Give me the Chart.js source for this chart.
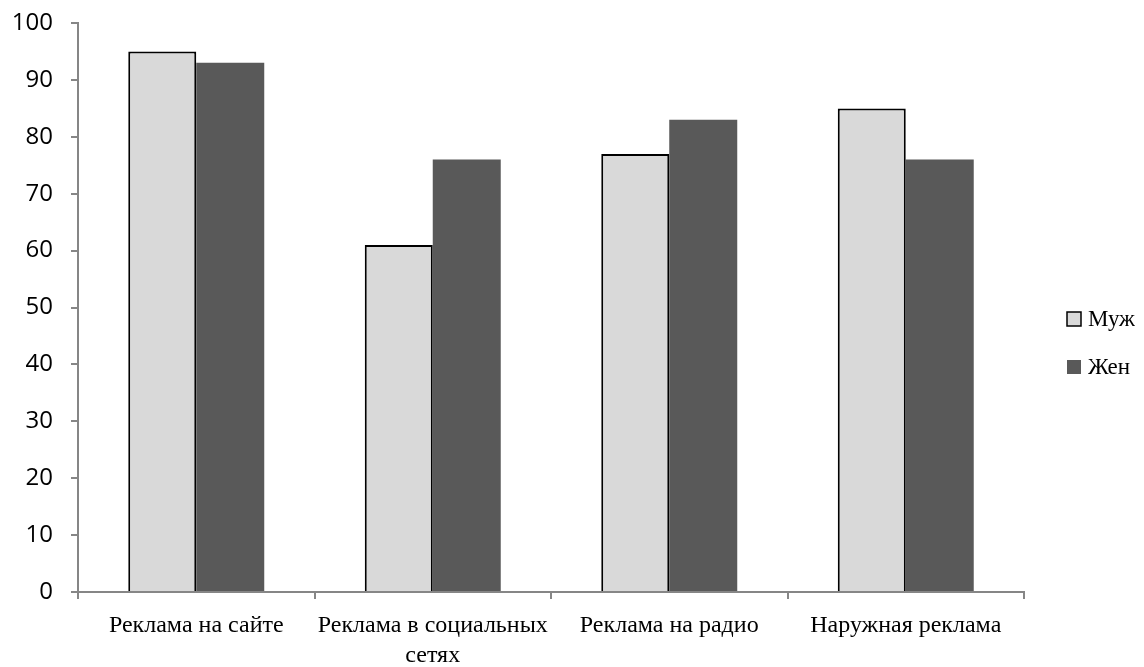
<!DOCTYPE html>
<html>
<head>
<meta charset="utf-8">
<script src="https://cdn.jsdelivr.net/npm/chart.js@4.4.1/dist/chart.umd.min.js"></script>
<style>
  html, body { margin: 0; padding: 0; background: #fff; }
  #wrap { width: 1144px; height: 667px; position: relative; }
</style>
</head>
<body>
<div id="wrap"><canvas id="c"></canvas></div>
<script>
const categories = [
  'Реклама на сайте',
  ['Реклама в социальных', 'сетях'],
  'Реклама на радио',
  'Наружная реклама'
];
const seriesNames = ['Муж', 'Жен'];
const menValues = [95, 61, 77, 85];
const womenValues = [93, 76, 83, 76];
const yTicks = [0, 10, 20, 30, 40, 50, 60, 70, 80, 90, 100];

const axisGray = '#868686';

// Legend drawn to the right of the plot: square swatch followed by the series name
const sideLegend = {
  id: 'sideLegend',
  afterDraw(chart) {
    const ctx = chart.ctx;
    const area = chart.chartArea;
    const x0 = area.right + 43;
    const firstY = 319;
    const step = 48;
    ctx.save();
    ctx.font = '23px "Liberation Serif"';
    ctx.textBaseline = 'middle';
    ctx.textAlign = 'left';
    chart.data.datasets.forEach((ds, i) => {
      const cy = firstY + i * step;
      ctx.fillStyle = ds.backgroundColor;
      ctx.fillRect(x0, cy - 7, 14, 14);
      if (ds.borderWidth > 0) {
        ctx.strokeStyle = ds.borderColor;
        ctx.lineWidth = 1.5;
        ctx.strokeRect(x0, cy - 7, 14, 14);
      }
      ctx.fillStyle = '#000';
      ctx.fillText(ds.label, x0 + 21, cy + 1);
    });
    ctx.restore();
  }
};

new Chart(document.getElementById('c'), {
  type: 'bar',
  data: {
    labels: categories,
    datasets: [
      {
        label: seriesNames[0],
        data: menValues,
        backgroundColor: '#d9d9d9',
        borderColor: '#000000',
        borderWidth: 2,
        categoryPercentage: 0.575,
        barPercentage: 1.0
      },
      {
        label: seriesNames[1],
        data: womenValues,
        backgroundColor: '#595959',
        borderColor: '#595959',
        borderWidth: 0,
        categoryPercentage: 0.575,
        barPercentage: 1.0
      }
    ]
  },
  plugins: [sideLegend],
  options: {
    responsive: true,
    maintainAspectRatio: false,
    animation: false,
    layout: { padding: { top: 0, right: 120, left: 0, bottom: 0 } },
    plugins: {
      tooltip: { enabled: false },
      legend: { display: false }
    },
    scales: {
      x: {
        afterFit: (scale) => { scale.height = 75; },
        grid: {
          display: true,
          offset: true,
          drawOnChartArea: false,
          drawTicks: true,
          tickLength: 7,
          color: axisGray,
          lineWidth: 2
        },
        border: { display: true, color: axisGray, width: 2 },
        ticks: {
          color: '#000',
          padding: 12,
          maxRotation: 0,
          autoSkip: false,
          font: { family: 'Liberation Serif', size: 24, lineHeight: 1.25 }
        }
      },
      y: {
        min: 0,
        max: 100,
        afterBuildTicks: (axis) => { axis.ticks = yTicks.map(v => ({ value: v })); },
        afterFit: (scale) => { scale.width = 78; },
        grid: {
          display: true,
          drawOnChartArea: false,
          drawTicks: true,
          tickLength: 7,
          color: axisGray,
          lineWidth: 2
        },
        border: { display: true, color: axisGray, width: 2 },
        ticks: {
          color: '#000',
          padding: 18,
          font: { family: 'Open Sans', size: 24, lineHeight: 0.42 }
        }
      }
    }
  }
});
</script>
</body>
</html>
